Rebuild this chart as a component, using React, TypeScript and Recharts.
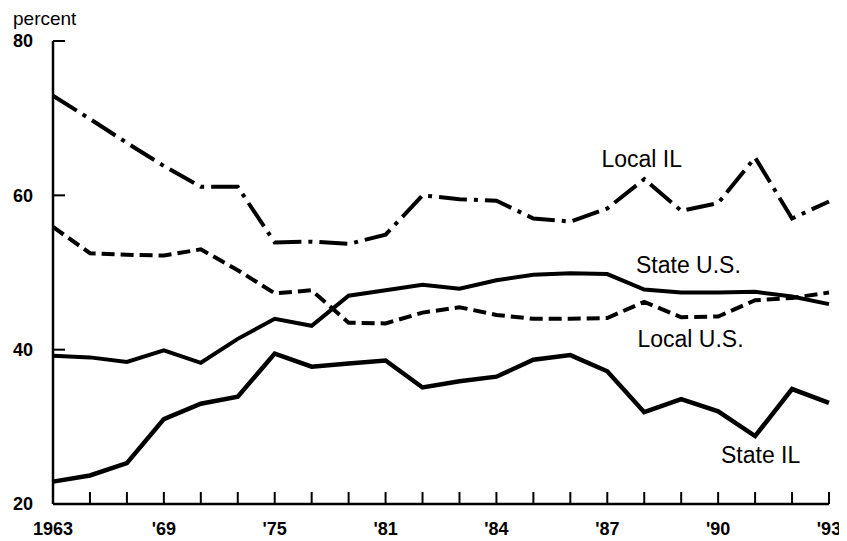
import React from 'react';
import { LineChart, Line, XAxis, YAxis, Customized } from 'recharts';

const years = [1963, 1965, 1967, 1969, 1971, 1973, 1975, 1977, 1979, 1981, 1982, 1983, 1984, 1985, 1986, 1987, 1988, 1989, 1990, 1991, 1992, 1993];
const yearLabels: Record<number, string> = {
  1963: '1963', 1969: "'69", 1975: "'75", 1981: "'81", 1984: "'84", 1987: "'87", 1990: "'90", 1993: "'93",
};
const localIL = [72.9, 69.9, 66.8, 63.8, 61.1, 61.1, 53.9, 54.0, 53.7, 54.9, 60.0, 59.5, 59.3, 57.0, 56.6, 58.3, 62.1, 58.0, 59.0, 64.9, 57.0, 59.2];
const stateUS = [39.2, 39.0, 38.4, 39.9, 38.3, 41.4, 44.0, 43.1, 47.0, 47.7, 48.4, 47.9, 49.0, 49.7, 49.9, 49.8, 47.8, 47.4, 47.4, 47.5, 46.9, 45.9];
const localUS = [55.9, 52.5, 52.3, 52.2, 53.0, 50.3, 47.3, 47.7, 43.5, 43.4, 44.8, 45.5, 44.5, 44.0, 44.0, 44.1, 46.2, 44.2, 44.3, 46.4, 46.7, 47.4];
const stateIL = [22.9, 23.7, 25.3, 31.0, 33.0, 33.9, 39.5, 37.8, 38.2, 38.6, 35.1, 35.9, 36.5, 38.7, 39.3, 37.2, 31.9, 33.6, 32.0, 28.8, 34.9, 33.1];
const yTicks = [20, 40, 60, 80];
const seriesLabels = ['Local IL', 'State U.S.', 'Local U.S.', 'State IL'];

const data = years.map((y, i) => ({
  year: y,
  localIL: localIL[i],
  stateUS: stateUS[i],
  localUS: localUS[i],
  stateIL: stateIL[i],
}));

const FONT = '"Liberation Sans", Arial, Helvetica, sans-serif';

const XTick = (props: any) => {
  const { x, y, payload } = props;
  const label = yearLabels[payload.value] || '';
  return (
    <g>
      <line x1={x} x2={x} y1={y} y2={y - 12} stroke="#000" strokeWidth={2} />
      {label && (
        <text x={x} y={y + 31} textAnchor="middle" fontFamily={FONT} fontSize={18} fontWeight="bold" fill="#000">
          {label}
        </text>
      )}
    </g>
  );
};

const YTick = (props: any) => {
  const { x, y, payload } = props;
  return (
    <g>
      {payload.value !== 20 && <line x1={x} x2={x + 12} y1={y} y2={y} stroke="#000" strokeWidth={2} />}
      <text x={x - 20} y={y} dy="0.36em" textAnchor="end" fontFamily={FONT} fontSize={18} fontWeight="bold" fill="#000">
        {payload.value}
      </text>
    </g>
  );
};

const Annotations = () => (
  <g fontFamily={FONT} fontSize={23} fill="#000">
    <text x={5} y={17} fontSize={19}>percent</text>
    <text x={593.5} y={158.5}>{seriesLabels[0]}</text>
    <text x={628} y={265}>{seriesLabels[1]}</text>
    <text x={629.5} y={338.5}>{seriesLabels[2]}</text>
    <text x={713} y={454.5}>{seriesLabels[3]}</text>
  </g>
);

export default function App() {
  return (
    <div style={{ width: 831, height: 533, overflow: 'visible' }}>
      <style>{'.recharts-surface{overflow:visible}.recharts-wrapper{overflow:visible}'}</style>
      <LineChart
        width={831}
        height={533}
        data={data}
        margin={{ top: 33, right: 10, left: 5, bottom: 7 }}
      >
        <XAxis
          dataKey="year"
          type="category"
          interval={0}
          height={30}
          tickSize={0}
          tickMargin={0}
          tickLine={false}
          tick={<XTick />}
          axisLine={{ stroke: '#000', strokeWidth: 2.5 }}
        />
        <YAxis
          domain={[20, 80]}
          ticks={yTicks}
          width={40}
          tickSize={0}
          tickMargin={0}
          tickLine={false}
          tick={<YTick />}
          axisLine={{ stroke: '#000', strokeWidth: 2.5 }}
        />
        <Line type="linear" dataKey="localIL" stroke="#000" strokeWidth={4} strokeDasharray="28 7 4 7" dot={false} isAnimationActive={false} />
        <Line type="linear" dataKey="localUS" stroke="#000" strokeWidth={4} strokeDasharray="13 6" dot={false} isAnimationActive={false} />
        <Line type="linear" dataKey="stateUS" stroke="#000" strokeWidth={4} dot={false} isAnimationActive={false} />
        <Line type="linear" dataKey="stateIL" stroke="#000" strokeWidth={4.5} dot={false} isAnimationActive={false} />
        <Customized component={Annotations} />
      </LineChart>
    </div>
  );
}
